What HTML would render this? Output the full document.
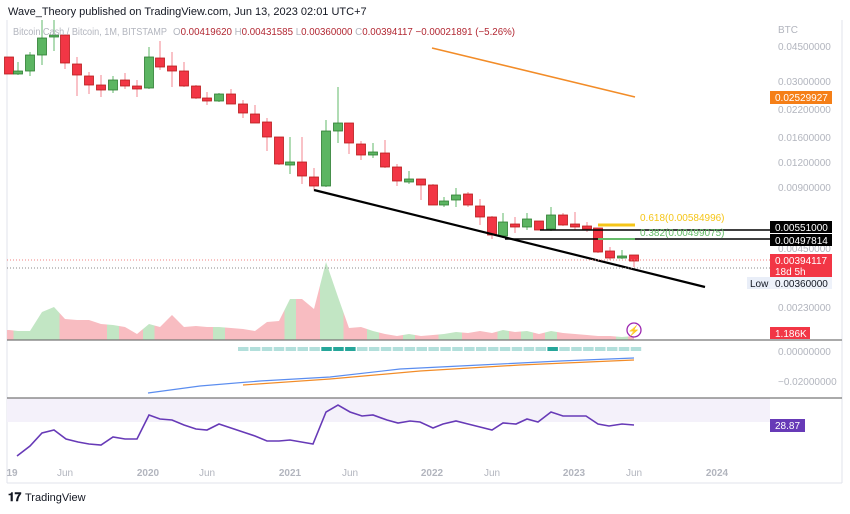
<!DOCTYPE html>
<html><head><meta charset="utf-8"><style>
body{margin:0;background:#fff;width:850px;height:509px;overflow:hidden;font-family:"Liberation Sans",sans-serif}
svg text{font-family:"Liberation Sans",sans-serif}
</style></head><body>
<svg id="s" width="850" height="509" xmlns="http://www.w3.org/2000/svg">
<rect width="850" height="509" fill="#fff"/>
<text x="8" y="15" font-size="11" fill="#131722">Wave_Theory published on TradingView.com, Jun 13, 2023 02:01 UTC+7</text>
<line x1="7" y1="20" x2="7" y2="483" stroke="#e0e3eb"/>
<line x1="842" y1="20" x2="842" y2="483" stroke="#e0e3eb"/>
<line x1="7" y1="483" x2="842" y2="483" stroke="#e0e3eb"/>
<rect x="7" y="398" width="763" height="24" fill="#f4f1fa"/>
<g id="g"></g>
<line x1="432" y1="48" x2="635" y2="97" stroke="#f28c28" stroke-width="1.6"/>
<line x1="314" y1="190" x2="705" y2="287" stroke="#000" stroke-width="2.2"/>
<line x1="540" y1="230" x2="770" y2="230" stroke="#000" stroke-width="1.4"/>
<line x1="505" y1="239" x2="770" y2="239" stroke="#000" stroke-width="1.4"/>
<line x1="598" y1="225" x2="635" y2="225" stroke="#f5c518" stroke-width="3"/>
<line x1="598" y1="239" x2="635" y2="239" stroke="#66bb6a" stroke-width="2"/>
<text x="640" y="221" font-size="10" fill="#f5c518">0.618(0.00584996)</text>
<text x="640" y="236" font-size="10" fill="#66bb6a">0.382(0.00499075)</text>
<line x1="7" y1="260" x2="770" y2="260" stroke="#f08080" stroke-dasharray="1,2"/>
<line x1="7" y1="268" x2="770" y2="268" stroke="#888" stroke-dasharray="1,2"/>
<line x1="7" y1="340" x2="842" y2="340" stroke="#777" stroke-width="1.3"/>
<line x1="7" y1="398" x2="842" y2="398" stroke="#777" stroke-width="1.3"/>
<circle cx="634" cy="330" r="7" fill="#fff" stroke="#9c27b0" stroke-width="1.3"/>
<text x="634" y="334" font-size="10" fill="#9c27b0" text-anchor="middle">⚡</text>
<text x="13" y="35" font-size="10" fill="#b2b5be" textLength="154" lengthAdjust="spacingAndGlyphs">Bitcoin Cash / Bitcoin, 1M, BITSTAMP</text>
<text x="173" y="35" font-size="10" fill="#b2b5be" textLength="342" lengthAdjust="spacingAndGlyphs">O<tspan fill="#b22833">0.00419620</tspan> H<tspan fill="#b22833">0.00431585</tspan> L<tspan fill="#b22833">0.00360000</tspan> C<tspan fill="#b22833">0.00394117 −0.00021891 (−5.26%)</tspan></text>
<g font-size="10" fill="#b2b5be">
<text x="778" y="33">BTC</text>
<text x="778" y="50">0.04500000</text>
<text x="778" y="85">0.03000000</text>
<text x="778" y="113">0.02200000</text>
<text x="778" y="141">0.01600000</text>
<text x="778" y="166">0.01200000</text>
<text x="778" y="191">0.00900000</text>
<text x="778" y="252">0.00450000</text>
<text x="778" y="311">0.00230000</text>
<text x="778" y="355">0.00000000</text>
<text x="778" y="385">−0.02000000</text>
</g>
<rect x="770" y="91" width="62" height="13" fill="#f57f17"/><text x="775" y="101" font-size="10" fill="#fff">0.02529927</text>
<rect x="770" y="221" width="62" height="12" fill="#000"/><text x="775" y="231" font-size="10" fill="#fff">0.00551000</text>
<rect x="770" y="234" width="62" height="12" fill="#000"/><text x="775" y="244" font-size="10" fill="#fff">0.00497814</text>
<rect x="770" y="254" width="62" height="23" fill="#f23645"/><text x="775" y="264" font-size="10" fill="#fff">0.00394117</text><text x="775" y="275" font-size="10" fill="#fff">18d 5h</text>
<rect x="747" y="277" width="23" height="12" fill="#e9eef8"/><text x="750" y="287" font-size="10" fill="#131722">Low</text>
<rect x="770" y="277" width="62" height="12" fill="#eef2fa"/><text x="775" y="287" font-size="10" fill="#131722">0.00360000</text>
<rect x="770" y="327" width="40" height="12" fill="#f23645"/><text x="775" y="337" font-size="10" fill="#fff">1.186K</text>
<rect x="770" y="419" width="35" height="13" fill="#673ab7"/><text x="775" y="429" font-size="10" fill="#fff">28.87</text>
<g font-size="10" fill="#b2b5be" text-anchor="middle">
<text x="12" y="476" font-weight="bold">19</text><text x="65" y="476">Jun</text>
<text x="148" y="476" font-weight="bold">2020</text><text x="207" y="476">Jun</text>
<text x="290" y="476" font-weight="bold">2021</text><text x="350" y="476">Jun</text>
<text x="432" y="476" font-weight="bold">2022</text><text x="492" y="476">Jun</text>
<text x="574" y="476" font-weight="bold">2023</text><text x="634" y="476">Jun</text>
<text x="717" y="476" font-weight="bold">2024</text>
</g>
<text x="8" y="501" font-size="12" font-weight="bold" fill="#131722">𝟏𝟕</text>
<text x="25" y="501" font-size="11" fill="#131722">TradingView</text>
</svg>
<script>
var C=[[9,57,74,57,74],[18,73,72,62,75],[30,71,55,52,76],[42,55,38,20,65],[54,37,35,20,51],[65,35,63,35,69],[77,64,75,57,96],[89,76,85,72,94],[101,85,90,75,97],[113,90,80,76,93],[125,80,86,73,89],[137,87,88,80,97],[149,88,57,47,89],[160,58,67,41,70],[172,66,71,52,87],[184,71,86,62,87],[196,86,98,85,99],[207,98,101,92,105],[219,101,94,93,102],[231,94,104,89,104],[243,104,113,100,118],[255,114,123,105,123],[267,122,137,118,151],[279,137,164,137,165],[290,164,163,137,174],[302,162,176,137,184],[314,177,186,168,190],[326,186,131,120,187],[338,131,123,87,143],[349,123,143,123,154],[361,144,155,141,160],[373,154,153,143,158],[385,153,167,140,168],[397,167,181,164,186],[409,182,179,171,184],[421,179,185,179,200],[433,185,205,184,205],[444,205,201,197,207],[456,200,195,188,207],[468,194,205,192,207],[480,206,217,199,225],[492,217,235,216,239],[503,236,222,213,238],[515,224,227,217,233],[527,227,219,213,230],[539,221,230,221,230],[551,229,215,207,231],[563,215,225,213,226],[575,225,226,212,230],[587,227,228,222,232],[598,228,252,228,253],[610,251,258,247,260],[622,258,256,250,259],[634,255,261,255,267]];
var g=document.getElementById('g'),h='';
var V=[330,331,331,312,307,319,320,320,324,325,327,334,324,327,315,327,326,327,327,328,329,331,322,321,299,299,309,262,297,328,327,331,334,336,334,336,335,334,332,333,331,333,330,332,331,334,331,333,334,335,336,336,337,336];
for(var i=0;i<C.length;i++){var c=C[i],up=c[2]<c[1],x0=i?(C[i-1][0]+c[0])/2:7,x1=i<C.length-1?(c[0]+C[i+1][0])/2:c[0];
var y0=i?(V[i-1]+V[i])/2:V[i],y1=i<C.length-1?(V[i]+V[i+1])/2:V[i];
h+='<polygon points="'+x0+',340 '+x0+','+y0+' '+c[0]+','+V[i]+' '+x1+','+y1+' '+x1+',340" fill="'+(up?'#c2e6c4':'#f8bcc1')+'"/>';}
for(var x=238;x<638;x+=11.9){var dk=(x>318&&x<356)||(x>543&&x<557);h+='<rect x="'+x+'" y="347" width="10.5" height="4" fill="'+(dk?'#26a69a':'#b2dfdb')+'"/>';}
h+='<polyline points="148,393 200,386 260,381 330,377 400,369 480,365 560,361 634,358" fill="none" stroke="#5b8def" stroke-width="1.2"/>';
h+='<polyline points="243,385 330,379 420,371 520,365 634,360" fill="none" stroke="#f28c28" stroke-width="1.2"/>';
h+='<polyline points="17,456 30,446 42,433 54,430 66,439 78,442 89,444 101,445 113,437 125,439 137,439 149,415 160,419 172,420 184,425 196,429 207,430 219,424 231,428 243,432 255,436 267,441 279,441 290,440 313,444 326,412 338,405 350,412 362,416 373,415 387,420 398,423 410,421 420,422 433,428 443,424 456,421 468,424 480,427 492,430 503,423 516,424 527,419 538,422 551,412 563,416 575,416 586,416 598,424 609,426 622,424 634,425" fill="none" stroke="#673ab7" stroke-width="1.6"/>';
for(var i=0;i<C.length;i++){var c=C[i],up=c[2]<c[1],col=up?'#5cb562':'#f23645',st=up?'#2e7d32':'#b71c1c';
h+='<line x1="'+c[0]+'" y1="'+c[3]+'" x2="'+c[0]+'" y2="'+c[4]+'" stroke="'+(up?'#7cc483':'#f59aa2')+'" stroke-width="1.2"/>';
var t=Math.min(c[1],c[2]),b=Math.max(c[1],c[2]);if(b-t<2){t-=1;b+=1;}
h+='<rect x="'+(c[0]-4.5)+'" y="'+t+'" width="9" height="'+(b-t)+'" fill="'+col+'" stroke="'+st+'" stroke-width="0.8"/>';}
g.innerHTML=h;
</script>
</body></html>
